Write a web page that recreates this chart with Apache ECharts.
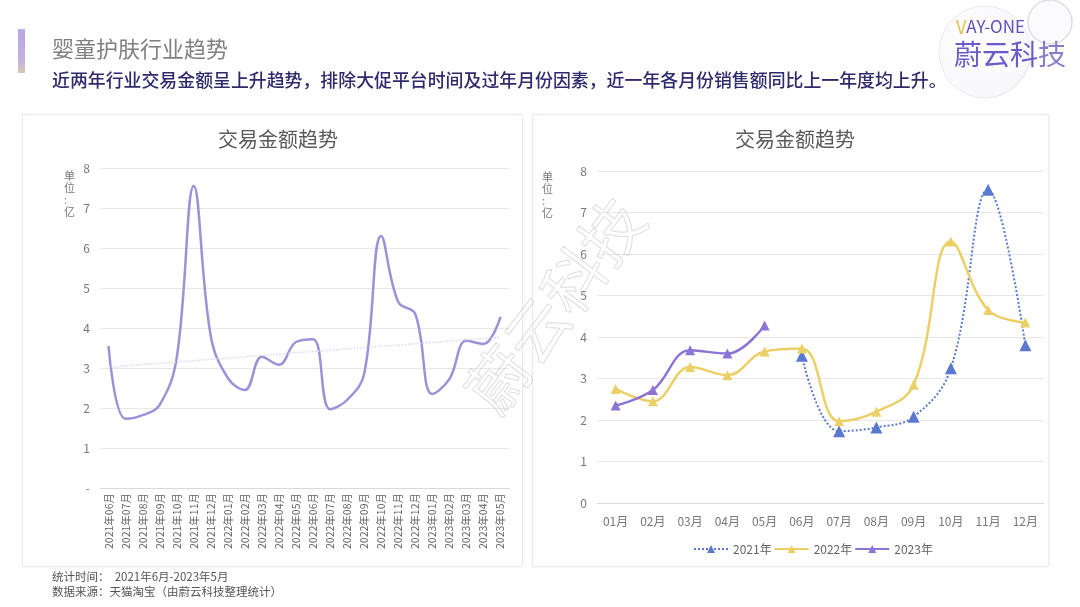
<!DOCTYPE html>
<html>
<head>
<meta charset="utf-8">
<script src="https://cdn.jsdelivr.net/npm/echarts@6/dist/echarts.min.js"></script>
<style>
html,body{margin:0;padding:0;background:#fff;}
#main{width:1080px;height:607px;}
</style>
</head>
<body>
<div id="main"></div>
<script>
// monthly sales, unit: 100 million
var months = ['01月','02月','03月','04月','05月','06月','07月','08月','09月','10月','11月','12月'];
var y2021 = [null, null, null, null, null, 3.55, 1.73, 1.82, 2.08, 3.25, 7.55, 3.8];
var y2022 = [2.75, 2.45, 3.28, 3.08, 3.65, 3.72, 1.97, 2.2, 2.85, 6.3, 4.65, 4.35];
var y2023 = [2.35, 2.72, 3.68, 3.6, 4.28];
var yTicks = ['-', '1', '2', '3', '4', '5', '6', '7', '8'];
// trend line ends
var trendStart = 3.02;
var trendEnd = 3.77;

var font = '"Noto Sans CJK SC", "Noto Sans", sans-serif';

// left chart: 2021-06 .. 2023-05 in one line
var seqCats = [];
var seqVals = [];
function pushYear(year, vals, from, to) {
    for (var i = from; i < to; i++) {
        seqCats.push(year + '年' + months[i]);
        seqVals.push(vals[i]);
    }
}
pushYear(2021, y2021, 5, 12);
pushYear(2022, y2022, 0, 12);
pushYear(2023, y2023, 0, 5);

var myChart = echarts.init(document.getElementById('main'));

var yAxisBase = {
    type: 'value',
    min: 0,
    max: 8,
    interval: 1,
    axisLine: {show: false},
    axisTick: {show: false},
    splitLine: {lineStyle: {color: '#e8e8e8'}}
};

var option = {
    animation: false,
    textStyle: {fontFamily: font},
    title: [
        {
            text: '交易金额趋势',
            left: 273, top: 124, textAlign: 'center',
            textStyle: {fontSize: 20, fontWeight: 'normal', color: '#595959', fontFamily: font}
        },
        {
            text: '交易金额趋势',
            left: 790, top: 124, textAlign: 'center',
            textStyle: {fontSize: 20, fontWeight: 'normal', color: '#595959', fontFamily: font}
        }
    ],
    grid: [
        {left: 100, right: 571, top: 168, bottom: 119},
        {left: 597, right: 36, top: 171, bottom: 104}
    ],
    legend: {
        data: ['2021年', '2022年', '2023年'],
        left: 688,
        top: 538,
        itemGap: 2,
        itemWidth: 34,
        itemHeight: 10,
        textStyle: {fontSize: 12, color: '#666', fontFamily: font}
    },
    xAxis: [
        {
            type: 'category',
            gridIndex: 0,
            data: seqCats,
            axisLine: {lineStyle: {color: '#d9d9d9'}},
            axisTick: {show: false},
            axisLabel: {
                interval: 0,
                rotate: 90,
                fontSize: 10.5,
                color: '#666',
                margin: 5
            }
        },
        {
            type: 'category',
            gridIndex: 1,
            data: months,
            axisLine: {lineStyle: {color: '#d9d9d9'}},
            axisTick: {show: false},
            axisLabel: {fontSize: 12, color: '#777', margin: 12}
        }
    ],
    yAxis: [
        Object.assign({}, yAxisBase, {
            gridIndex: 0,
            axisLabel: {
                color: '#777', fontSize: 12, margin: 10,
                formatter: function (v) { return yTicks[v]; }
            }
        }),
        Object.assign({}, yAxisBase, {
            gridIndex: 1,
            axisLabel: {color: '#777', fontSize: 12, margin: 10}
        })
    ],
    series: [
        {
            name: '交易金额',
            type: 'line',
            xAxisIndex: 0,
            yAxisIndex: 0,
            data: seqVals,
            smooth: 0.4,
            showSymbol: false,
            lineStyle: {color: '#9d92d8', width: 2.5},
            markLine: {
                silent: true,
                symbol: 'none',
                label: {show: false},
                lineStyle: {color: '#dcd8ea', type: 'dotted', width: 1.5},
                data: [[
                    {coord: [seqCats[0], trendStart]},
                    {coord: [seqCats[seqCats.length - 1], trendEnd]}
                ]]
            }
        },
        {
            name: '2021年',
            type: 'line',
            xAxisIndex: 1,
            yAxisIndex: 1,
            data: y2021,
            smooth: 0.4,
            symbol: 'triangle',
            symbolSize: 12,
            itemStyle: {color: '#5a78d0'},
            lineStyle: {color: '#5a78d0', width: 2, type: 'dotted'},
            z: 3
        },
        {
            name: '2022年',
            type: 'line',
            xAxisIndex: 1,
            yAxisIndex: 1,
            data: y2022,
            smooth: 0.4,
            symbol: 'triangle',
            symbolSize: 10,
            itemStyle: {color: '#ead067'},
            lineStyle: {color: '#ead067', width: 2.5}
        },
        {
            name: '2023年',
            type: 'line',
            xAxisIndex: 1,
            yAxisIndex: 1,
            data: y2023,
            smooth: 0.4,
            symbol: 'triangle',
            symbolSize: 10,
            itemStyle: {color: '#8c74d4'},
            lineStyle: {color: '#8c74d4', width: 2.5}
        }
    ],
    graphic: [
        // header accent bar
        {
            type: 'rect', left: 18, top: 29,
            shape: {width: 7, height: 44},
            style: {fill: new echarts.graphic.LinearGradient(0, 0, 0, 1, [
                {offset: 0, color: '#b9a6e6'},
                {offset: 0.7, color: '#c3b0e0'},
                {offset: 1, color: '#d9c6b0'}
            ])}
        },
        {
            type: 'text', left: 52, top: 38,
            style: {text: '婴童护肤行业趋势', font: '22px ' + font, fill: '#808080'}
        },
        {
            type: 'text', left: 52, top: 71,
            style: {
                text: '近两年行业交易金额呈上升趋势，排除大促平台时间及过年月份因素，近一年各月份销售额同比上一年度均上升。',
                font: '500 17.9px ' + font, fill: '#2e2a6c'
            }
        },
        // logo bubbles
        {
            type: 'circle', shape: {cx: 985, cy: 52, r: 46},
            style: {
                fill: new echarts.graphic.RadialGradient(0.4, 0.4, 0.7, [
                    {offset: 0, color: 'rgba(255,255,255,0.9)'},
                    {offset: 0.85, color: 'rgba(244,244,248,0.6)'},
                    {offset: 1, color: 'rgba(215,215,222,0.5)'}
                ]),
                stroke: 'rgba(215,215,222,0.5)', lineWidth: 1
            }
        },
        {
            type: 'circle', shape: {cx: 1050, cy: 22, r: 22},
            style: {
                fill: 'rgba(250,250,252,0.7)',
                stroke: 'rgba(200,200,208,0.6)', lineWidth: 1.5
            }
        },
        {
            type: 'text', left: 956, top: 18,
            style: {
                rich: {
                    v: {fontSize: 18, fill: '#e2c24a', fontFamily: font},
                    r: {fontSize: 17, fill: '#5f52bd', fontFamily: font}
                },
                text: '{v|V}{r|AY-ONE}'
            }
        },
        {
            type: 'text', left: 954, top: 40,
            style: {
                rich: {
                    a: {fontSize: 28, fill: '#6a5cc8', fontFamily: font},
                    b: {fontSize: 28, fill: '#8a7ccc', fontFamily: font}
                },
                text: '{a|蔚云科}{b|技}'
            }
        },
        // panel frames
        {
            type: 'rect', left: 22, top: 114, z: -10,
            shape: {width: 500, height: 452},
            style: {fill: '#fff', stroke: '#ececec', lineWidth: 1, shadowBlur: 4, shadowColor: 'rgba(0,0,0,0.05)'}
        },
        {
            type: 'rect', left: 532, top: 114, z: -10,
            shape: {width: 516, height: 452},
            style: {fill: '#fff', stroke: '#ececec', lineWidth: 1, shadowBlur: 4, shadowColor: 'rgba(0,0,0,0.05)'}
        },
        // unit labels
        {
            type: 'text', left: 64, top: 170,
            style: {text: '单\n位\n:\n亿', font: '11px ' + font, fill: '#777', lineHeight: 12, align: 'left'}
        },
        {
            type: 'text', left: 542, top: 171,
            style: {text: '单\n位\n:\n亿', font: '11px ' + font, fill: '#777', lineHeight: 12, align: 'left'}
        },
        // watermark
        {
            type: 'text', x: 555, y: 305, rotation: 0.92, z: 100,
            style: {
                text: '蔚云科技',
                font: '62px ' + font,
                fill: 'rgba(255,255,255,0)',
                stroke: 'rgba(190,190,190,0.5)',
                lineWidth: 1,
                align: 'center',
                verticalAlign: 'middle'
            }
        },
        // footer
        {
            type: 'text', left: 52, top: 571,
            style: {text: '统计时间：  2021年6月-2023年5月', font: '11.5px ' + font, fill: '#555'}
        },
        {
            type: 'text', left: 52, top: 586,
            style: {text: '数据来源：天猫淘宝（由蔚云科技整理统计）', font: '11.5px ' + font, fill: '#555'}
        }
    ]
};

myChart.setOption(option);
</script>
</body>
</html>
